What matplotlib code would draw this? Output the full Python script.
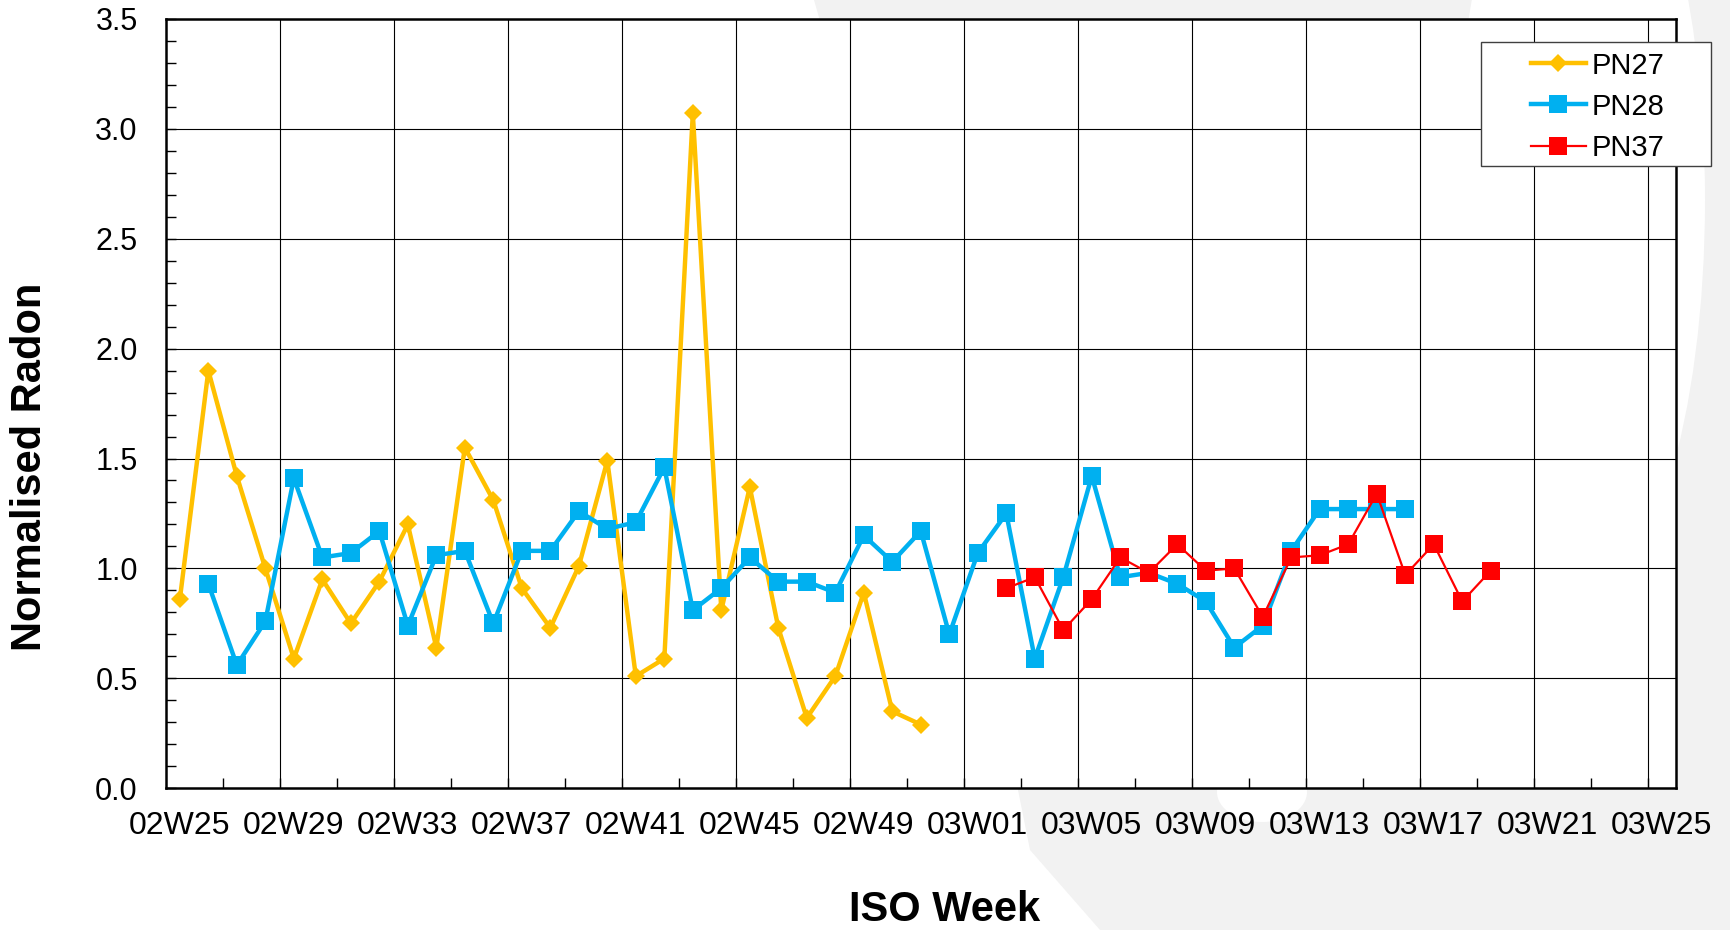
import numpy as np
import matplotlib
matplotlib.use("Agg")
from matplotlib import pyplot as plt
from matplotlib.patches import Polygon, Ellipse, Rectangle

plt.rcParams["font.family"] = ["Liberation Sans", "DejaVu Sans"]

# ISO weeks from 2002-W25 to 2003-W25 (2002 has 52 weeks)
weeks = [f"02W{w:02d}" for w in range(25, 53)] + [f"03W{w:02d}" for w in range(1, 26)]
tick_labels = ["02W25", "02W29", "02W33", "02W37", "02W41", "02W45", "02W49",
               "03W01", "03W05", "03W09", "03W13", "03W17", "03W21", "03W25"]

pn27_start = "02W25"
pn27 = [0.86, 1.90, 1.42, 1.00, 0.59, 0.95, 0.75, 0.94, 1.20, 0.64, 1.55, 1.31,
        0.91, 0.73, 1.01, 1.49, 0.51, 0.59, 3.07, 0.81, 1.37, 0.73, 0.32, 0.51,
        0.89, 0.35, 0.29]

pn28_start = "02W26"
pn28 = [0.93, 0.56, 0.76, 1.41, 1.05, 1.07, 1.17, 0.74, 1.06, 1.08, 0.75, 1.08,
        1.08, 1.26, 1.18, 1.21, 1.46, 0.81, 0.91, 1.05, 0.94, 0.94, 0.89, 1.15,
        1.03, 1.17, 0.70, 1.07, 1.25, 0.59, 0.96, 1.42, 0.96, 0.98, 0.93, 0.85,
        0.64, 0.74, 1.08, 1.27, 1.27, 1.27, 1.27]

pn37_start = "03W02"
pn37 = [0.91, 0.96, 0.72, 0.86, 1.05, 0.98, 1.11, 0.99, 1.00, 0.78, 1.05, 1.06,
        1.11, 1.34, 0.97, 1.11, 0.85, 0.99]


def positions(start, values):
    return weeks.index(start) + np.arange(len(values))


W, H = 1731, 930
fig = plt.figure(figsize=(W / 100, H / 100), dpi=100, facecolor="white")


def fx(px):
    return px / W


def fy(py):
    return 1 - py / H


# faint backdrop swoosh
swoosh = Polygon([(fx(814), fy(0)), (fx(900), fy(300)), (fx(980), fy(600)),
                  (fx(1030), fy(850)), (fx(1100), fy(930)), (1, 0), (1, 1)],
                 closed=True, transform=fig.transFigure, facecolor="#f2f2f2",
                 edgecolor="none", zorder=-3)
fig.patches.append(swoosh)
fig.patches.append(Ellipse((fx(1580), fy(200)), 250 / W, 800 / H, transform=fig.transFigure,
                           facecolor="white", edgecolor="none", zorder=-2))
fig.patches.append(Ellipse((fx(1262), fy(792)), 90 / W, 60 / H, transform=fig.transFigure,
                           facecolor="white", edgecolor="none", zorder=-2))

ax = fig.add_axes([fx(165.6), fy(788.3), (1676 - 165.6) / W, (788.3 - 18.8) / H])
ax.set_facecolor("white")

l27, = ax.plot(positions(pn27_start, pn27), pn27, color="#FFC000", lw=3.2,
               marker="D", ms=8.7, mew=0, label="PN27", zorder=3)
l28, = ax.plot(positions(pn28_start, pn28), pn28, color="#00B0F0", lw=3.2,
               marker="s", ms=12.5, mew=0, label="PN28", zorder=4)
l37, = ax.plot(positions(pn37_start, pn37), pn37, color="#FF0000", lw=1.6,
               marker="s", ms=12.5, mew=0, label="PN37", zorder=5)

ax.set_xlim(-0.5, len(weeks) - 0.5)
ax.set_ylim(0, 3.5)

ax.set_xticks([weeks.index(t) for t in tick_labels])
ax.set_xticklabels(tick_labels)
ax.set_xticks(np.arange(1.5, len(weeks) - 1, 2), minor=True)
ax.set_yticks(np.arange(0, 3.51, 0.5))
ax.set_yticklabels([f"{v:.1f}" for v in np.arange(0, 3.51, 0.5)])
ax.set_yticks(np.arange(0, 3.51, 0.1), minor=True)

ax.tick_params(axis="both", which="both", direction="in", width=1, colors="black")
ax.tick_params(axis="x", which="major", length=0, pad=16, labelsize=23)
ax.tick_params(axis="x", which="minor", length=7)
ax.tick_params(axis="y", which="both", length=7, pad=20, labelsize=22)

for x in np.arange(3.5, len(weeks) - 1, 4):
    ax.axvline(x, color="black", lw=0.8, zorder=1)
for y in np.arange(0.5, 3.5, 0.5):
    ax.axhline(y, color="black", lw=0.8, zorder=1)

for s in ax.spines.values():
    s.set_linewidth(1.8)
    s.set_color("black")
    s.set_zorder(6)

# legend box sticks out past the plot area
fig.add_artist(Rectangle((fx(1481), fy(166)), 230 / W, 124 / H, transform=fig.transFigure,
                         facecolor="white", edgecolor="#404040", lw=1, zorder=2))
leg = fig.legend(handles=[l27, l28, l37], loc="upper left",
                 bbox_to_anchor=(fx(1516), fy(37)), bbox_transform=fig.transFigure,
                 frameon=False, borderpad=0, fontsize=21, handlelength=1.9,
                 handletextpad=0.2, labelspacing=0.45)
leg.set_zorder(3)

fig.text(fx(30), 0.498, "Normalised Radon", rotation=90, ha="center", va="center",
         fontsize=30, fontweight="bold")
fig.text(fx(945), fy(921), "ISO Week", ha="center", va="baseline",
         fontsize=30, fontweight="bold")

fig.savefig("out.png", dpi=100)
